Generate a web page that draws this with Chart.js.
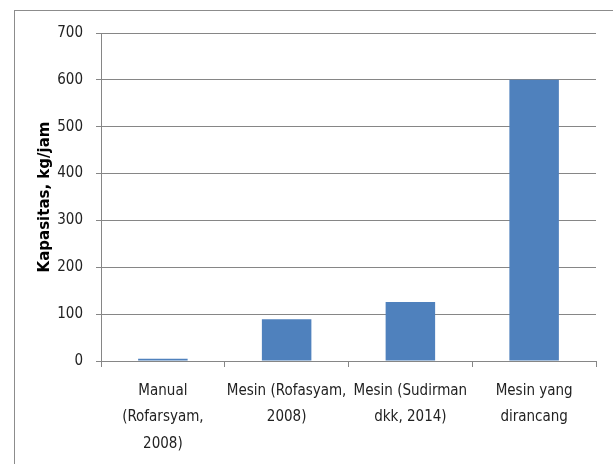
<!DOCTYPE html>
<html>
<head>
<meta charset="utf-8">
<script src="https://cdn.jsdelivr.net/npm/chart.js@4/dist/chart.umd.min.js"></script>
<style>
  html, body { margin: 0; padding: 0; background: #fff; }
  #wrap { position: relative; width: 613px; height: 464px; }
</style>
</head>
<body>
<div id="wrap"><canvas id="myChart" width="613" height="464"></canvas></div>
<script>
// data
var categories = [
    ['Manual', '(Rofarsyam,', '2008)'],
    ['Mesin (Rofasyam,', '2008)'],
    ['Mesin (Sudirman', 'dkk, 2014)'],
    ['Mesin yang', 'dirancang']
];
var kapasitas = [5, 89, 126, 600];
var yTicks = [0, 100, 200, 300, 400, 500, 600, 700];

var axisGrey = '#868686';
var fontName = "'DejaVu Sans Condensed', 'Open Sans', sans-serif";

// outer frame like the excel chart border
var framePlugin = {
    id: 'frame',
    beforeDraw: function (c) {
        var g = c.ctx;
        g.save();
        g.fillStyle = '#fff';
        g.fillRect(0, 0, c.width, c.height);
        g.strokeStyle = '#8c8c8c';
        g.lineWidth = 1;
        g.strokeRect(14.5, 10.5, 700, 600);
        g.restore();
    }
};

var ctx = document.getElementById('myChart').getContext('2d');
var chart = new Chart(ctx, {
    type: 'bar',
    data: {
        labels: categories,
        datasets: [{
            label: 'Kapasitas',
            data: kapasitas,
            backgroundColor: '#4F81BD',
            borderWidth: 0,
            barPercentage: 0.4,
            categoryPercentage: 1
        }]
    },
    options: {
        responsive: false,
        animation: false,
        layout: { padding: { top: 33, right: 17, bottom: 0, left: 30 } },
        plugins: {
            legend: { display: false },
            tooltip: { enabled: false }
        },
        scales: {
            x: {
                afterFit: function (s) { s.height = 464 - 361; },
                grid: {
                    offset: true,
                    drawOnChartArea: false,
                    drawTicks: true,
                    tickLength: 6,
                    color: axisGrey
                },
                border: { color: axisGrey },
                ticks: {
                    maxRotation: 0,
                    autoSkip: false,
                    padding: 11,
                    color: '#222',
                    font: { family: fontName, size: 15, lineHeight: 1.75 }
                }
            },
            y: {
                min: 0,
                max: 700,
                afterFit: function (s) { s.width = 101 - 30; },
                afterBuildTicks: function (s) {
                    s.ticks = yTicks.map(function (v) { return { value: v }; });
                },
                grid: {
                    color: axisGrey,
                    tickLength: 5
                },
                border: { color: axisGrey },
                ticks: {
                    padding: 13,
                    color: '#222',
                    font: { family: fontName, size: 15 }
                },
                title: {
                    display: true,
                    text: 'Kapasitas, kg/jam',
                    color: '#000',
                    padding: { top: 6, bottom: 0 },
                    font: { family: "'DejaVu Sans', sans-serif", size: 15, weight: 'bold' }
                }
            }
        }
    },
    plugins: [framePlugin]
});
</script>
</body>
</html>
